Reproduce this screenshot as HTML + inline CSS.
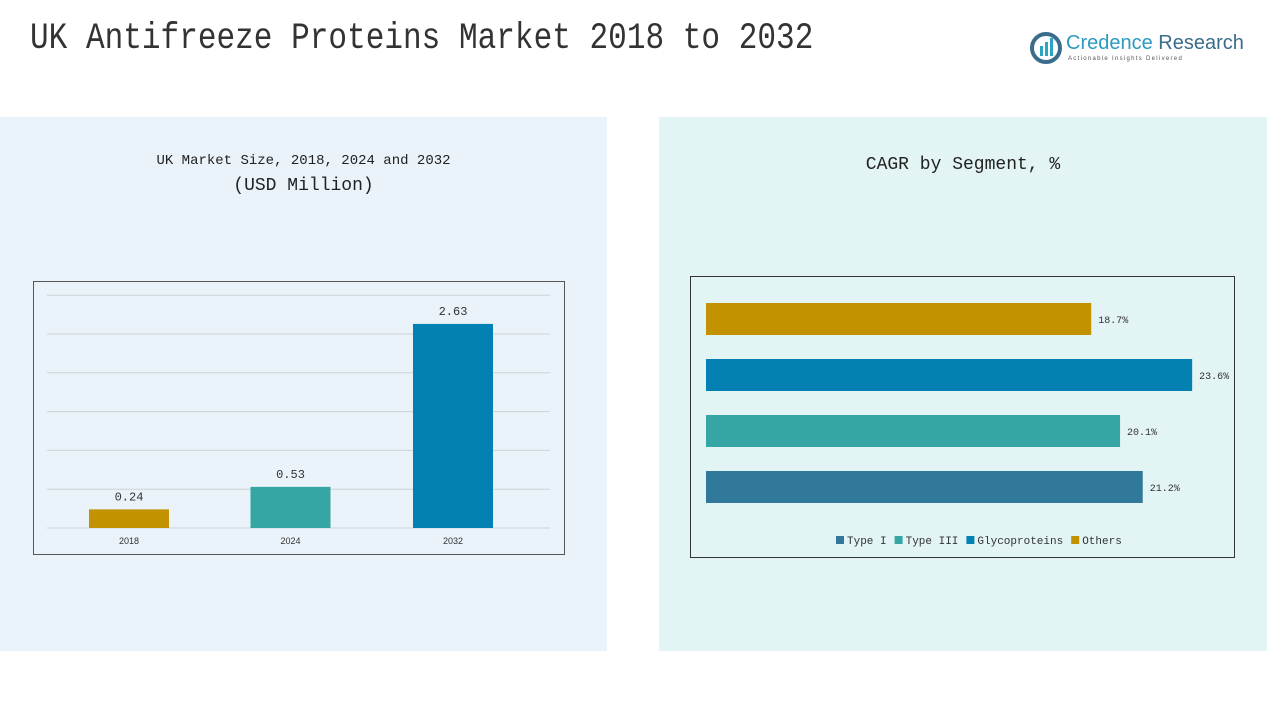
<!DOCTYPE html>
<html><head><meta charset="utf-8"><style>
body{margin:0;width:1267px;height:713px;background:#fff;position:relative;overflow:hidden;font-family:"Liberation Mono","Noto Sans CJK SC",monospace;}
.abs{position:absolute;}
</style></head><body>
<div class="abs" style="left:0;top:117px;width:607px;height:534px;background:#eaf3f9"></div>
<div class="abs" style="left:659px;top:117px;width:608px;height:534px;background:#e3f4f4"></div>
<div class="abs" style="left:30px;top:18px;font-family:'Liberation Mono',monospace;font-size:37px;color:#333;transform:scaleX(0.84);transform-origin:left;white-space:nowrap">UK Antifreeze Proteins Market 2018 to 2032</div>
<div class="abs" style="left:1030px;top:32px;width:210px;height:36px">
<svg width="32" height="32" style="position:absolute;left:0;top:0"><circle cx="16" cy="16" r="14" fill="none" stroke="#3a6d8c" stroke-width="4"/><rect x="10" y="14" width="3" height="10" fill="#2aa6c4"/><rect x="15" y="10" width="3" height="14" fill="#2aa6c4"/><rect x="20" y="6" width="3" height="18" fill="#2aa6c4"/></svg>
<div style="position:absolute;left:36px;top:0;font-family:'Liberation Sans',sans-serif;font-size:20px;color:#2b9ac0;white-space:nowrap">Credence <span style="color:#3a6d8c">Research</span></div>
<div style="position:absolute;left:38px;top:24px;font-family:'Liberation Sans',sans-serif;font-size:6px;letter-spacing:1.3px;color:#555;white-space:nowrap">Actionable Insights Delivered</div>
</div>
<div class="abs" style="left:0;width:607px;top:153px;text-align:center;font-size:14px;color:#222;">UK Market Size, 2018, 2024 and 2032</div>
<div class="abs" style="left:0;width:607px;top:176px;text-align:center;font-size:18px;color:#222;">(USD Million)</div>
<div class="abs" style="left:659px;width:608px;top:155px;text-align:center;font-size:18px;color:#222;">CAGR by Segment, %</div>
<svg id="chart" class="abs" style="left:0;top:0" width="1267" height="713"></svg>
<script>
const years=["2018","2024","2032"];
const sizes=[0.24,0.53,2.63];
const sizeColors=["#c39200","#35a6a4","#0381b3"];
const segs=["Others","Glycoproteins","Type III","Type I"];
const cagr=[18.7,23.6,20.1,21.2];
const segColors=["#c39200","#0381b3","#35a6a4","#31799b"];
const legendNames=["Type I","Type III","Glycoproteins","Others"];
const legendColors=["#31799b","#35a6a4","#0381b3","#c39200"];
const ticks=[0,0.5,1,1.5,2,2.5,3];
const svg=document.getElementById('chart');const NS="http://www.w3.org/2000/svg";
function mk(t,a,p){const e=document.createElementNS(NS,t);for(const k in a)e.setAttribute(k,a[k]);(p||svg).appendChild(e);return e;}
let b=mk('rect',{x:33.5,y:281.5,width:531,height:273,fill:'none',stroke:'#555'});


const y0=528,ys=77.6;const yv=v=>y0-v*ys;
ticks.forEach(t=>{const l=mk('line',{x1:47,x2:550,y1:yv(t),y2:yv(t),stroke:'#ccd3d8','stroke-width':1});

});
const xc=[129,290.5,453];
years.forEach((y,i)=>{const r=mk('rect',{x:xc[i]-40,y:yv(sizes[i]),width:80,height:sizes[i]*ys,fill:sizeColors[i]});


const v=mk('text',{x:xc[i],y:yv(sizes[i])-9,'text-anchor':'middle','font-size':12,fill:'#333','font-family':'Liberation Mono,monospace'});v.textContent=sizes[i].toFixed(2);


const l=mk('text',{x:xc[i],y:544,'text-anchor':'middle','font-size':9,fill:'#333','font-family':'Liberation Sans,sans-serif'});l.textContent=y;

});
let b2=mk('rect',{x:690.5,y:276.5,width:544,height:281,fill:'none',stroke:'#333'});


const x0=706,xs=20.6;
segs.forEach((s,i)=>{const yy=303+i*56;const r=mk('rect',{x:x0,y:yy,width:cagr[i]*xs,height:32,fill:segColors[i]});


const t=mk('text',{x:x0+cagr[i]*xs+7,y:yy+20,'font-size':10,fill:'#333','font-family':'Liberation Mono,monospace'});t.textContent=cagr[i]+'%';

});
let lx=836;
legendNames.forEach((n,i)=>{const r=mk('rect',{x:lx,y:536,width:8,height:8,fill:legendColors[i]});


const t=mk('text',{x:lx+11,y:544,'font-size':11,fill:'#333','font-family':'Liberation Mono,monospace'});t.textContent=n;


lx+=11+n.length*6.6+8;});
</script>
</body></html>
